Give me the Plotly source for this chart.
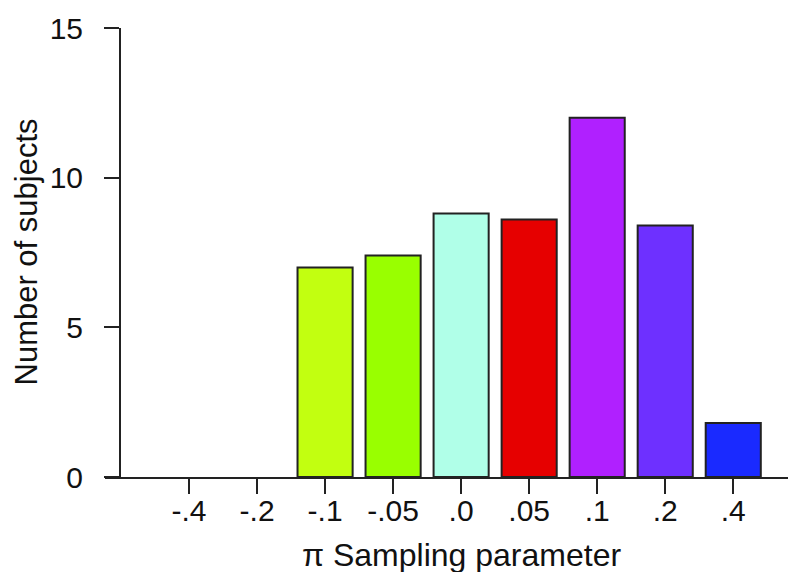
# histogram of the pi sampling parameter across subjects
import plotly.graph_objs as go

# data
categories = ['-.4', '-.2', '-.1', '-.05', '.0', '.05', '.1', '.2', '.4']
subjects = [0, 0, 7.0, 7.4, 8.8, 8.6, 12.0, 8.4, 1.8]
colors = ['#c2ff10', '#c2ff10', '#c2ff10', '#99ff00', '#b0ffe8',
          '#e60000', '#b020ff', '#6e30ff', '#1a2aff']
y_ticks = [0, 5, 10, 15]

font = dict(family='Liberation Sans, Arial, sans-serif', size=30, color='#111111')

# no outline on empty bins
outline = [0 if v == 0 else 2 for v in subjects]

trace = go.Bar(
    x=categories, y=subjects,
    width=0.81,
    marker=dict(color=colors, line=dict(color='#222222', width=outline)),
)

layout = go.Layout(
    width=796, height=572,
    margin=dict(l=97, r=0, t=20, b=103),
    plot_bgcolor='white', paper_bgcolor='white',
    font=font,
    showlegend=False,
    xaxis=dict(
        type='category', range=[-1.235, 9.04],
        showline=True, linecolor='#222222', linewidth=2,
        ticks='outside', ticklen=15, tickwidth=2, tickcolor='#222222',
        ticklabelstandoff=-9,
        showgrid=False, zeroline=False,
    ),
    yaxis=dict(
        range=[0, 15], tickvals=y_ticks,
        anchor='free', position=15 / 699,
        showline=True, linecolor='#222222', linewidth=2,
        ticks='outside', ticklen=15, tickwidth=2, tickcolor='#222222',
        ticklabelstandoff=15,
        showgrid=False, zeroline=False,
    ),
    annotations=[
        dict(text='Number of subjects', textangle=-90, showarrow=False,
             xref='paper', yref='paper', x=0, y=0.5, xshift=-79,
             xanchor='center', yanchor='middle', font=dict(size=31)),
        dict(text='\u03c0 Sampling parameter', showarrow=False,
             xref='x', yref='paper', x=4, y=0, yshift=-78,
             xanchor='center', yanchor='middle', font=dict(size=32)),
    ],
)

fig = go.Figure(data=[trace], layout=layout)
fig.write_html('out.html')
